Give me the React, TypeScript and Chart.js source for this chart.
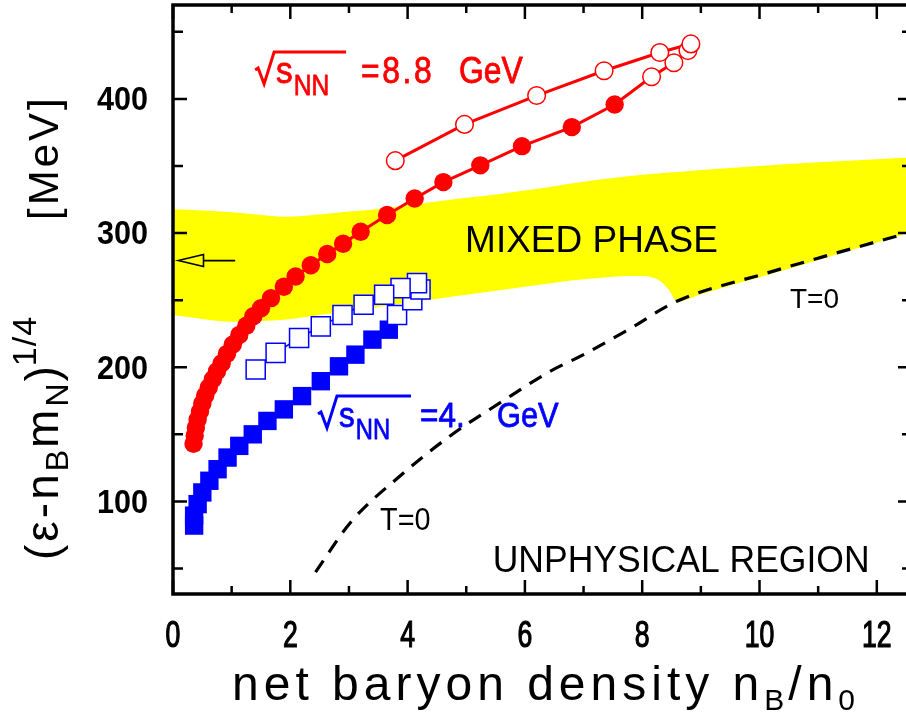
import React, { useEffect, useRef } from "react";
import { Chart, registerables } from "chart.js";

Chart.register(...registerables);

// ---------- data ----------
const xTickValues = [0, 2, 4, 6, 8, 10, 12];
const yTickValues = [100, 200, 300, 400];

// sqrt(s_NN) = 8.8 GeV, filled circles (lower branch)
const redFilledX = [0.35, 0.37, 0.39, 0.42, 0.46, 0.5, 0.55, 0.61, 0.68, 0.75, 0.83, 0.92, 1.02, 1.13, 1.25, 1.37, 1.5, 1.67, 1.89, 2.09, 2.35, 2.63, 2.9, 3.2, 3.65, 4.12, 4.61, 5.24, 5.95, 6.8, 7.53];
const redFilledY = [143, 149, 155, 161, 167, 173, 179, 185, 191, 197, 203, 210, 217, 224, 231, 238, 244, 251.5, 260, 267.6, 276, 284.4, 292, 301, 313.5, 325.8, 338, 350.5, 364.8, 379, 395.8];
// open circles, continuing the lower branch
const redOpenLowerX = [8.16, 8.54, 8.78];
const redOpenLowerY = [416.5, 427, 436];
// open circles, upper (returning) branch
const redOpenUpperX = [8.83, 8.3, 7.35, 6.2, 4.97, 3.79];
const redOpenUpperY = [441, 434.6, 421, 402.5, 381, 354];

// sqrt(s_NN) = 4 GeV, filled squares
const blueFilledX = [0.36, 0.36, 0.42, 0.5, 0.62, 0.76, 0.93, 1.13, 1.36, 1.61, 1.89, 2.2, 2.52, 2.83, 3.11, 3.4, 3.68];
const blueFilledY = [82, 89.4, 98, 106.7, 115.4, 124, 132.7, 141.4, 150, 160, 168.6, 178.5, 189.6, 200.7, 209.4, 220.6, 228];
// open squares
const blueOpenX = [3.82, 4.08, 4.22, 4.16, 3.88, 3.6, 3.25, 2.89, 2.52, 2.15, 1.75, 1.41];
const blueOpenY = [239, 250, 258, 262.7, 259, 254, 246.6, 239, 230.5, 221.8, 210.7, 198.3];

// mixed phase band
const bandX = [0, 0.5, 1.0, 1.5, 1.9, 2.5, 3.0, 3.5, 4.0, 4.5, 5.0, 5.5, 6.0, 6.5, 7.0, 7.5, 8.0, 8.3, 8.45, 8.6, 9.0, 10.0, 11.0, 12.0, 12.6];
const bandUpper = [317.7, 316.8, 315.5, 313.5, 312.2, 313.8, 316, 318, 320.7, 323.5, 326.3, 328.8, 331.8, 335, 338.2, 341, 343.5, 344.6, 345.2, 345.6, 347, 350, 352.8, 355, 356.3];
const bandLower = [239, 236, 234, 234.5, 235.4, 239, 242, 245, 248, 251, 254, 257, 260, 263, 265.5, 267.5, 268, 264.5, 258, 249, 254.5, 267, 280, 293, 301];

// T = 0 line
const t0X = [2.43, 3.03, 3.88, 4.73, 5.58, 6.43, 7.0, 7.8, 8.58, 10.11, 12.6];
const t0Y = [47.3, 84.5, 119.3, 149, 173.6, 197, 209.4, 229, 249, 270, 301];

// arrow at left
const arrowTipX = 0.09;
const arrowBaseX = 0.52;
const arrowTailX = 1.06;
const arrowY = 279.5;

const X_MIN = 0, X_MAX = 12.6, Y_MIN = 31, Y_MAX = 470;

const FONT = '"Liberation Sans", Arial, sans-serif';
const RED = "#ff0000";
const BLUE = "#0000ff";

const pts = (xs: number[], ys: number[]) => xs.map((x, i) => ({ x, y: ys[i] }));

type Part = { t: string; size: number; dy?: number; ls?: number; sx?: number; weight?: string; gap?: number };

function drawParts(ctx: CanvasRenderingContext2D, x: number, y: number, parts: Part[], color: string, strokeW = 0) {
  let cx = x;
  ctx.fillStyle = color;
  ctx.strokeStyle = color;
  ctx.textAlign = "left";
  ctx.textBaseline = "alphabetic";
  for (const p of parts) {
    ctx.font = `${p.weight || "normal"} ${p.size}px ${FONT}`;
    (ctx as any).letterSpacing = `${p.ls || 0}px`;
    const sx = p.sx ?? 1;
    cx += p.gap || 0;
    ctx.save();
    ctx.translate(cx, y + (p.dy || 0));
    ctx.scale(sx, 1);
    ctx.fillText(p.t, 0, 0);
    if (strokeW > 0) {
      ctx.lineWidth = strokeW;
      ctx.lineJoin = "round";
      ctx.strokeText(p.t, 0, 0);
    }
    ctx.restore();
    cx += ctx.measureText(p.t).width * sx;
  }
  (ctx as any).letterSpacing = "0px";
  return cx - x;
}

function drawRadical(ctx: CanvasRenderingContext2D, x0: number, b: number, len: number, color: string) {
  ctx.save();
  ctx.strokeStyle = color;
  ctx.lineWidth = 3;
  ctx.lineJoin = "miter";
  ctx.beginPath();
  ctx.moveTo(x0, b - 13);
  ctx.lineTo(x0 + 3, b - 15);
  ctx.lineTo(x0 + 9, b + 1);
  ctx.lineTo(x0 + 19, b - 31);
  ctx.lineTo(x0 + 19 + len, b - 31);
  ctx.stroke();
  ctx.restore();
}

const decorPlugin = {
  id: "decor",
  afterDatasetsDraw(chart: any) {
    const ctx: CanvasRenderingContext2D = chart.ctx;
    const xs = chart.scales.x;
    const ys = chart.scales.y;
    const a = chart.chartArea;
    const X = (v: number) => xs.getPixelForValue(v);
    const Y = (v: number) => ys.getPixelForValue(v);
    ctx.save();

    // frame
    ctx.strokeStyle = "#000";
    ctx.lineWidth = 3.5;
    ctx.strokeRect(a.left, a.top, a.right - a.left, a.bottom - a.top);

    // inward ticks
    ctx.lineWidth = 2.5;
    ctx.beginPath();
    for (let v = 0; v <= 12; v += 1) {
      const px = X(v);
      const len = v % 2 === 0 ? 14 : 8;
      ctx.moveTo(px, a.bottom);
      ctx.lineTo(px, a.bottom - len);
      ctx.moveTo(px, a.top);
      ctx.lineTo(px, a.top + len);
    }
    for (let v = 50; v <= 450; v += 50) {
      const py = Y(v);
      const len = v % 100 === 0 ? 14 : 10;
      ctx.moveTo(a.left, py);
      ctx.lineTo(a.left + len, py);
      ctx.moveTo(a.right, py);
      ctx.lineTo(a.right - len, py);
    }
    ctx.stroke();

    // tick labels
    ctx.fillStyle = "#000";
    for (const v of yTickValues) {
      ctx.save();
      ctx.font = `bold 34px ${FONT}`;
      ctx.textAlign = "right";
      ctx.textBaseline = "middle";
      ctx.translate(a.left - 25, Y(v) + 2);
      ctx.scale(0.9, 1);
      ctx.fillText(String(v), 0, 0);
      ctx.restore();
    }
    for (const v of xTickValues) {
      ctx.save();
      ctx.font = `normal 37px ${FONT}`;
      ctx.textAlign = "center";
      ctx.textBaseline = "alphabetic";
      ctx.translate(X(v), a.bottom + 53);
      ctx.scale(0.72, 1);
      ctx.fillText(String(v), 0, 0);
      ctx.strokeStyle = "#000";
      ctx.lineWidth = 1.2;
      ctx.strokeText(String(v), 0, 0);
      ctx.restore();
    }

    // axis titles
    drawParts(ctx, a.left + 59, a.bottom + 106, [
      { t: "net baryon density n", size: 48, ls: 5 },
      { t: "B", size: 30, dy: 10, ls: 2 },
      { t: "/n", size: 48, ls: 5, gap: 2 },
      { t: "0", size: 30, dy: 10 },
    ], "#000");

    ctx.save();
    ctx.translate(58, 560);
    ctx.rotate(-Math.PI / 2);
    drawParts(ctx, 0, 0, [
      { t: "(\u03b5-n", size: 46, ls: 3 },
      { t: "B", size: 32, dy: 10 },
      { t: "m", size: 46, ls: 3, gap: 2 },
      { t: "N", size: 32, dy: 10 },
      { t: ")", size: 46, gap: 2 },
      { t: "1/4", size: 34, dy: -22, ls: 1 },
      { t: "[MeV]", size: 42, ls: 3, gap: 96 },
    ], "#000");
    ctx.restore();

    // arrow
    ctx.strokeStyle = "#000";
    ctx.lineWidth = 1.6;
    const ay = Y(arrowY);
    ctx.beginPath();
    ctx.moveTo(X(arrowTailX), ay);
    ctx.lineTo(X(arrowBaseX), ay);
    ctx.stroke();
    ctx.beginPath();
    ctx.moveTo(X(arrowTipX), ay);
    ctx.lineTo(X(arrowBaseX), ay - 6);
    ctx.lineTo(X(arrowBaseX), ay + 6);
    ctx.closePath();
    ctx.stroke();

    // labels in the plot
    drawParts(ctx, X(4.98), Y(285.9), [{ t: "MIXED PHASE", size: 37 }], "#000");
    drawParts(ctx, X(5.45), Y(47.4), [{ t: "UNPHYSICAL REGION", size: 37, sx: 0.96 }], "#000");
    drawParts(ctx, X(10.52), Y(244.2), [{ t: "T=0", size: 28 }], "#000");
    drawParts(ctx, X(3.53), Y(78.7), [{ t: "T=0", size: 32, sx: 0.9 }], "#000");

    // sqrt(s_NN) labels
    {
      const x0 = X(1.4), b = Y(411.9);
      drawRadical(ctx, x0, b, 72, RED);
      const w = drawParts(ctx, x0 + 21, b, [{ t: "s", size: 37, sx: 0.9 }], RED, 0.8);
      drawParts(ctx, x0 + 21 + w + 1, b + 12, [{ t: "NN", size: 30, sx: 0.82 }], RED, 0.8);
      drawParts(ctx, x0 + 106, b, [{ t: "=8.8", size: 37, sx: 0.86, ls: 3 }], RED, 0.8);
      drawParts(ctx, x0 + 204, b, [{ t: "GeV", size: 37, sx: 0.86 }], RED, 0.8);
    }
    {
      const x0 = X(2.472), b = Y(155.5);
      drawRadical(ctx, x0, b, 74, BLUE);
      const w = drawParts(ctx, x0 + 21, b, [{ t: "s", size: 35, sx: 0.9 }], BLUE, 0.8);
      drawParts(ctx, x0 + 21 + w + 1, b + 12, [{ t: "NN", size: 29, sx: 0.82 }], BLUE, 0.8);
      drawParts(ctx, x0 + 102, b, [{ t: "=4.", size: 35, sx: 0.9 }], BLUE, 0.8);
      drawParts(ctx, x0 + 179, b, [{ t: "GeV", size: 35, sx: 0.88 }], BLUE, 0.8);
    }

    ctx.restore();
  },
};

export default function App() {
  const ref = useRef<HTMLCanvasElement | null>(null);
  useEffect(() => {
    document.body.style.margin = "0";
    const canvas = ref.current!;
    const redLine = [...pts(redFilledX, redFilledY), ...pts(redOpenLowerX, redOpenLowerY), ...pts(redOpenUpperX, redOpenUpperY)];
    const blueLine = [...pts(blueFilledX, blueFilledY), ...pts(blueOpenX, blueOpenY)];
    const chart = new Chart(canvas, {
      type: "scatter",
      data: {
        datasets: [
          {
            label: "mixed phase upper",
            data: pts(bandX, bandUpper),
            showLine: true,
            borderWidth: 0,
            borderColor: "rgba(0,0,0,0)",
            pointRadius: 0,
            backgroundColor: "#ffff00",
            fill: 1,
            tension: 0.3,
            cubicInterpolationMode: "monotone",
            order: 10,
          } as any,
          {
            label: "mixed phase lower",
            data: pts(bandX, bandLower),
            showLine: true,
            borderWidth: 0,
            borderColor: "rgba(0,0,0,0)",
            pointRadius: 0,
            fill: false,
            tension: 0.3,
            cubicInterpolationMode: "monotone",
            order: 11,
          } as any,
          {
            label: "T=0",
            data: pts(t0X, t0Y),
            showLine: true,
            borderColor: "#000",
            borderWidth: 3.2,
            borderDash: [14, 10],
            pointRadius: 0,
            tension: 0.3,
            cubicInterpolationMode: "monotone",
            order: 9,
          } as any,
          {
            label: "4 GeV line",
            data: blueLine,
            showLine: true,
            borderColor: BLUE,
            borderWidth: 1.5,
            pointRadius: 0,
            order: 6,
          },
          {
            label: "4 GeV filled",
            data: pts(blueFilledX, blueFilledY),
            pointStyle: "rect",
            pointRadius: 13,
            backgroundColor: BLUE,
            borderColor: BLUE,
            borderWidth: 0,
            order: 5,
          },
          {
            label: "4 GeV open",
            data: pts(blueOpenX, blueOpenY),
            pointStyle: "rect",
            pointRadius: 13.5,
            backgroundColor: "#ffffff",
            borderColor: BLUE,
            borderWidth: 1.5,
            order: 4,
          },
          {
            label: "8.8 GeV line",
            data: redLine,
            showLine: true,
            borderColor: RED,
            borderWidth: 3,
            pointRadius: 0,
            order: 3,
          },
          {
            label: "8.8 GeV filled",
            data: pts(redFilledX, redFilledY),
            pointStyle: "circle",
            pointRadius: 9.2,
            backgroundColor: RED,
            borderColor: RED,
            borderWidth: 0,
            order: 2,
          },
          {
            label: "8.8 GeV open",
            data: [...pts(redOpenLowerX, redOpenLowerY), ...pts(redOpenUpperX, redOpenUpperY)],
            pointStyle: "circle",
            pointRadius: 8.8,
            backgroundColor: "#ffffff",
            borderColor: RED,
            borderWidth: 1.5,
            order: 1,
          },
        ],
      },
      options: {
        animation: false,
        responsive: false,
        events: [],
        layout: { autoPadding: false, padding: { left: 173, right: 4, top: 5, bottom: 121 } },
        scales: {
          x: { type: "linear", min: X_MIN, max: X_MAX, display: false },
          y: { type: "linear", min: Y_MIN, max: Y_MAX, display: false },
        },
        plugins: { legend: { display: false }, tooltip: { enabled: false } },
      },
      plugins: [decorPlugin],
    });
    return () => chart.destroy();
  }, []);
  return (
    <div style={{ position: "fixed", left: 0, top: 0, width: 906, height: 715, overflow: "hidden", background: "#fff" }}>
      <canvas ref={ref} width={916} height={715} style={{ width: 916, height: 715, display: "block" }} />
    </div>
  );
}
